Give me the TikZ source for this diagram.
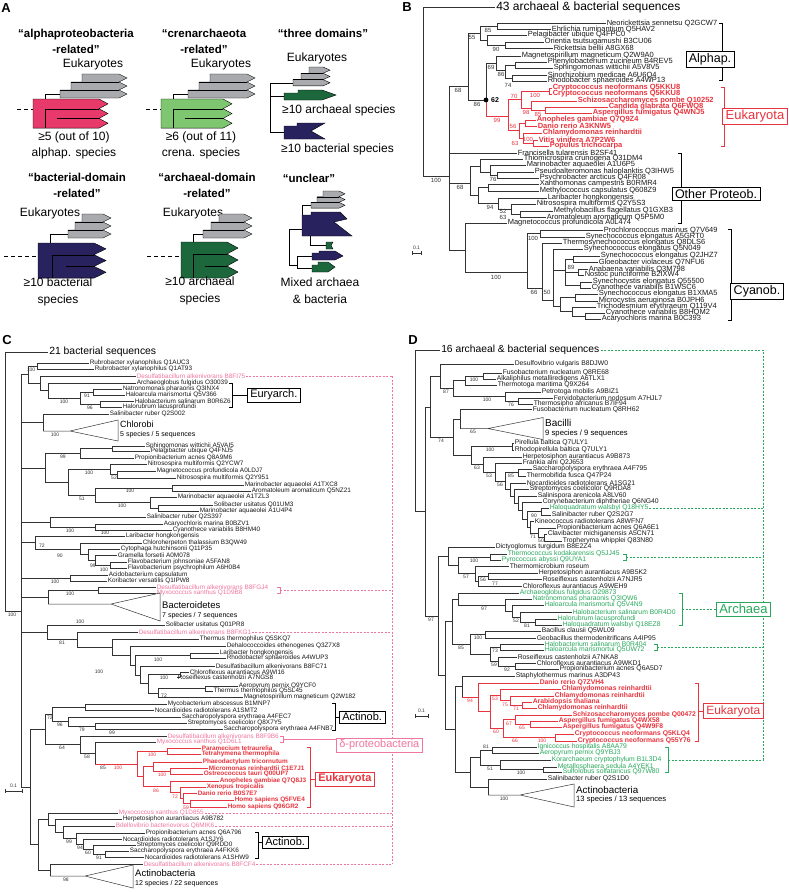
\documentclass[tikz,border=0pt]{standalone}
\usepackage{fontspec}
\setmainfont{Liberation Sans}
\newcommand\Tfs[1]{\fontsize{#1}{#1}\selectfont}
\definecolor{pinkA}{RGB}{232,58,106}
\definecolor{lgreen}{RGB}{126,199,112}
\definecolor{navyc}{RGB}{40,35,95}
\definecolor{dgreen}{RGB}{28,104,60}
\definecolor{grayc}{RGB}{168,170,173}
\definecolor{eukred}{RGB}{232,52,62}
\definecolor{pinkC}{RGB}{240,118,160}
\definecolor{greenD}{RGB}{40,168,92}
\newcounter{lfc}\newcounter{bsc}
\def\lfsz{7.5}\def\bssz{6}
\tikzset{
  br/.style={line width=0.5pt, draw=black!80},
  lf/.style={anchor=west, inner xsep=0.5pt, inner ysep=0pt, font=\Tfs{\lfsz}, text=black!90},
  rd/.style={text=eukred, font=\Tfs{\lfsz}\bfseries},
  pk/.style={text=pinkC},
  gr/.style={text=greenD},
  bs/.style={font=\Tfs{\bssz}, inner sep=0pt, text=black!80},
  hdr/.style={anchor=west, inner sep=1pt},
  boxn/.style={draw=black, line width=0.5pt, fill=white, inner xsep=3pt, inner ysep=2pt},
  ttl/.style={align=center, font=\fontsize{11.5}{16}\selectfont\bfseries, inner sep=0pt},
  atx/.style={align=center, font=\fontsize{12}{16}\selectfont, inner sep=0pt},
  plabel/.style={font=\Tfs{13}\bfseries, inner sep=0pt},
  pdash/.style={draw=pinkC, line width=0.5pt, dash pattern=on 2pt off 1.5pt},
  gdash/.style={draw=greenD, line width=0.5pt, dash pattern=on 2pt off 1.5pt},
  adash/.style={draw=black, line width=0.8pt, dash pattern=on 4pt off 3pt},
  ol/.style={draw=black, line width=0.5pt},
  tri/.style={anchor=west, inner sep=0pt},
}
\newcommand\TLf[5][]{\stepcounter{lfc}\draw[br] (#2,#3) -- (#4,#3) node[lf,#1,alias=last] (lf\arabic{lfc}) {#5};}
\newcommand\TLr[4]{\stepcounter{lfc}\draw[br,draw=eukred] (#1,#2) -- (#3,#2) node[lf,rd,alias=last] (lf\arabic{lfc}) {#4};}
\newcommand\TNd[6][]{\draw[br,#1] (#2,#4) -- (#3,#4) (#3,#5) -- (#3,#6);}
\newcommand\TBs[4][]{\stepcounter{bsc}\node[bs,#1] (bs\arabic{bsc}) at (#2,#3) {#4};}
\newcommand\Tstair[7]{%
\filldraw[fill=#1,draw=black,line width=0.4pt]
 ({#2+2*#4},#3) -- ({#6-#7},#3) -- (#6,{#3+0.5*#5}) -- ({#6-#7},{#3+#5}) -- (#6,{#3+1.5*#5}) -- ({#6-#7},{#3+2*#5}) -- (#6,{#3+2.5*#5}) -- ({#6-#7},{#3+3*#5}) -- (#2,{#3+3*#5}) -- (#2,{#3+2*#5}) -- ({#2+#4},{#3+2*#5}) -- ({#2+#4},{#3+#5}) -- ({#2+2*#4},{#3+#5}) -- cycle;
\draw[line width=0.4pt] ({#2+#4},{#3+#5}) -- ({#6-#7},{#3+#5}) (#2,{#3+2*#5}) -- ({#6-#7},{#3+2*#5});}
\newcommand\Tblk[7]{%
\filldraw[fill=#1,draw=black,line width=0.4pt]
 (#2,#3) -- ({#6-#7},#3) -- (#6,{#3+0.5*#5}) -- ({#6-#7},{#3+#5}) -- (#6,{#3+1.5*#5}) -- ({#6-#7},{#3+2*#5}) -- (#6,{#3+2.5*#5}) -- ({#6-#7},{#3+3*#5}) -- (#2,{#3+3*#5}) -- cycle;
\draw[line width=0.4pt] ({#2+#4},{#3+#5}) -- ({#6-#7},{#3+#5}) ({#2+#4},{#3+#5}) -- ({#2+#4},{#3+3*#5}) ({#2+2*#4},{#3+2*#5}) -- ({#6-#7},{#3+2*#5});}
\begin{document}
\begin{tikzpicture}[x=1pt,y=-1pt]
\useasboundingbox (0,0) rectangle (789,892);
\fill[white] (0,0) rectangle (789,892);
% ================= A
\node[plabel] (labA) at (6,8) {A};
\node[ttl] (t1) at (76,41) {“alphaproteobacteria\\-related”};
\node[ttl] (t2) at (204,41) {“crenarchaeota\\-related”};
\node[ttl] (t3) at (323,33) {“three domains”};
\node[ttl] (t4) at (77,185) {“bacterial-domain\\-related”};
\node[ttl] (t5) at (207,185) {“archaeal-domain\\-related”};
\node[ttl] (t6) at (309,178) {“unclear”};
% tree 1
\node[atx] (e1) at (93,64) {Eukaryotes};
\draw[adash] (17,109) -- (33,109);
\Tblk{pinkA}{33}{99}{12}{9.7}{108}{9}
\draw[ol] (45,99) -- (45,94) -- (60,94);
\Tstair{grayc}{60}{74}{11}{8}{127}{8}
\node[atx] (s1) at (74,145) {≥5 (out of 10)\\alphap. species};
% tree 2
\node[atx] (e2) at (221,64) {Eukaryotes};
\draw[adash] (146,109) -- (161,109);
\Tblk{lgreen}{161}{99}{12}{9.7}{232}{9}
\draw[ol] (173,99) -- (173,94) -- (188,94);
\Tstair{grayc}{188}{74}{11}{8}{255}{8}
\node[atx] (s2) at (201,145) {≥6 (out of 11)\\crena. species};
% tree 3
\node[atx] (e3) at (317,58) {Eukaryotes};
\draw[ol] (270,83) -- (270,132) (270,83) -- (293,83) (270,96) -- (284,96) (270,132) -- (284,132);
\Tstair{grayc}{293}{67}{8}{6.3}{330}{7}
\filldraw[fill=dgreen,draw=black,line width=0.4pt] (284,100) -- (284,93) -- (298,93) -- (298,90) -- (322,90) -- (336,95) -- (322,100) -- cycle;
\filldraw[fill=navyc,draw=black,line width=0.4pt] (284,139) -- (284,126) -- (297,126) -- (297,123) -- (325,123) -- (311,131) -- (325,139) -- cycle;
\node[atx,anchor=west] (s3a) at (282,110) {≥10 archaeal species};
\node[atx,anchor=west] (s3b) at (281,149) {≥10 bacterial species};
% tree 4
\node[atx] (e4) at (50,213) {Eukaryotes};
\draw[adash] (4,256) -- (38,256);
\Tblk{navyc}{38}{243}{14}{11.7}{106}{12}
\draw[ol] (50,243) -- (50,234) -- (68,234);
\Tstair{grayc}{68}{214}{7}{8}{111}{8}
\node[atx,font=\fontsize{12}{17}\selectfont] (s4) at (58,291.5) {≥10 bacterial\\species};
% tree 5
\node[atx] (e5) at (193,213) {Eukaryotes};
\draw[adash] (147,256) -- (181,256);
\Tblk{dgreen}{181}{242}{12}{12}{238}{11}
\draw[ol] (193,242) -- (193,234) -- (203,234);
\Tstair{grayc}{203}{214}{8}{8}{252}{8}
\node[atx,font=\fontsize{12}{17}\selectfont] (s5) at (200,291) {≥10 archaeal\\species};
% tree 6
\draw[ol] (289,229) -- (289,265) (289,229) -- (302,229) (302,215) -- (302,205) -- (311,205);
\Tstair{grayc}{311}{191}{6}{5.7}{345}{6}
\filldraw[fill=navyc,draw=black,line width=0.4pt] (302,236) -- (302,215) -- (311,215) -- (311,212) -- (340,212) -- (347,219) -- (334,222) -- (352,236) -- cycle;
\draw[ol] (310,236) -- (310,245) -- (326,245);
\filldraw[fill=dgreen,draw=black,line width=0.4pt] (326,249) -- (326,242) -- (333,242) -- (331,245.5) -- (333,249) -- cycle;
\draw[ol] (289,265) -- (297,265) (297,256) -- (297,268) (297,256) -- (312,256) (297,268) -- (312,268);
\filldraw[fill=navyc,draw=black,line width=0.4pt] (312,260) -- (312,253) -- (319,253) -- (319,251) -- (335,251) -- (343,256) -- (335,260) -- cycle;
\filldraw[fill=dgreen,draw=black,line width=0.4pt] (312,272) -- (312,265) -- (318,265) -- (318,262) -- (328,262) -- (335,267) -- (328,272) -- cycle;
\node[atx,font=\fontsize{12}{17}\selectfont] (s6) at (320,291) {Mixed archaea\\\& bacteria};
% ================= B
\def\lfsz{7.5}\def\bssz{6}
\node[plabel] (labB) at (407,7) {B};
\draw[br] (423,7) -- (495,7) node[hdr,font=\Tfs{12}] (hB) {43 archaeal \& bacterial sequences};
\draw[br] (423,7) -- (423,176);
\TNd{423}{449}{176}{86}{250}
\TNd{449}{468}{86}{33}{100}
\TNd{468}{480}{33}{26}{40}
\TNd{480}{497}{26}{23}{29}
\TLf{497}{23}{606}{Neorickettsia sennetsu Q2GCW7}
\TLf{497}{29}{551}{Ehrlichia ruminantium Q5HAV2}
\TNd{480}{487}{40}{35}{45}
\TLf{487}{35}{527}{Pelagibacter ubique Q4FPC0}
\TNd{487}{505}{45}{42}{48}
\TLf{505}{42}{544}{Orientia tsutsugamushi B3CU06}
\TLf{505}{48}{553}{Rickettsia bellii A8GX68}
\draw[br] (468,100) -- (486,100) (486,63) -- (486,100);
\draw[br,draw=eukred] (486,100) -- (486,116);
\TNd{486}{496}{63}{56}{70}
\TLf{496}{56}{521}{Magnetospirillum magneticum Q2W9A0}
\TNd{496}{505}{70}{65}{78}
\TNd{505}{515}{65}{62}{68}
\TLf{515}{62}{547}{Phenylobacterium zucineum B4REV5}
\TLf{515}{68}{553}{Sphingomonas wittichii A5V8V5}
\TNd{505}{512}{78}{75}{81}
\TLf{512}{75}{547}{Sinorhizobium medicae A6U6Q4}
\TLf{512}{81}{547}{Rhodobacter sphaeroides A4WP13}
\TNd[draw=eukred]{486}{508}{116}{99.5}{130}
\TNd[draw=eukred]{508}{521}{99.5}{91}{108}
\TNd[draw=eukred]{521}{549}{91}{88}{94}
\TLr{549}{88}{552}{Cryptococcus neoformans Q5KKU8}
\TLr{549}{94}{552}{Cryptococcus neoformans Q5KKU8}
\TNd[draw=eukred]{521}{531}{108}{101}{110}
\TLr{531}{101}{577}{Schizosaccharomyces pombe Q10252}
\TNd[draw=eukred]{531}{545}{110}{107}{113}
\TLr{545}{107}{608}{Candida glabrata Q6FWQ8}
\TLr{545}{113}{592}{Aspergillus fumigatus Q4WNJ5}
\TNd[draw=eukred]{508}{519}{130}{123}{138}
\TNd[draw=eukred]{519}{525}{123}{120}{126}
\TLr{525}{120}{536}{Anopheles gambiae Q7Q9Z4}
\TLr{525}{126}{537}{Danio rerio A3KNW5}
\TNd[draw=eukred]{519}{523}{138}{133}{143}
\TLr{523}{133}{542}{Chlamydomonas reinhardtii}
\TNd[draw=eukred]{523}{533}{143}{140}{146}
\TLr{533}{140}{538}{Vitis vinifera A7P2W6}
\TLr{533}{146}{549}{Populus trichocarpa}
\fill (486,100) circle (2.4);
\node[font=\Tfs{7}\bfseries, inner sep=0pt] (n62) at (495,100) {62};
\TLf{449}{153}{517}{Francisella tularensis B2SF41}
\TNd{449}{470}{183}{166}{195.5}
\TNd{470}{480}{166}{159}{172}
\TLf{480}{159}{523}{Thiomicrospira crunogena Q31DM4}
\TNd{480}{490}{172}{165}{175}
\TLf{490}{165}{526}{Marinobacter aquaeolei A1U6P5}
\TNd{490}{497}{175}{172}{178}
\TLf{497}{172}{534}{Pseudoalteromonas haloplanktis Q3IHW5}
\TLf{497}{178}{539}{Psychrobacter arcticus Q4FR08}
\TNd{470}{478}{195.5}{187.5}{203.5}
\TNd{478}{488}{187.5}{184}{191}
\TLf{488}{184}{539}{Xanthomonas campestris B0RMR4}
\TLf{488}{191}{539}{Methylococcus capsulatus Q608Z9}
\TNd{478}{498}{203.5}{198}{209}
\TLf{498}{198}{547}{Laribacter hongkongensis}
\TNd{498}{511}{209}{204}{214}
\TLf{511}{204}{536}{Nitrosospira multiformis Q2Y5S3}
\TNd{511}{520}{214}{211}{217}
\TLf{520}{211}{553}{Methylobacillus flagellatus Q1GXB3}
\TLf{520}{217}{546}{Aromatoleum aromaticum Q5P5M0}
\TNd{449}{465}{250}{223}{272}
\TLf{465}{223}{507}{Magnetococcus profundicola A0L474}
\TNd{465}{527}{272}{233.5}{288}
\TNd{527}{540}{233.5}{230}{237}
\TLf{540}{230}{603}{Prochlorococcus marinus Q7V649}
\TLf{540}{237}{585}{Synechococcus elongatus A5GRT0}
\TNd{527}{542}{288}{243}{300}
\TLf{542}{243}{562}{Thermosynechococcus elongatus Q8DLS6}
\TNd{542}{553}{300}{249}{306}
\TLf{553}{249}{583}{Synechococcus elongatus Q5N049}
\TNd{553}{565}{270}{259}{285}
\TNd{565}{573}{259}{256}{262}
\TLf{573}{256}{600}{Synechococcus elongatus Q2JHZ7}
\TLf{573}{262}{598}{Gloeobacter violaceus Q7NFU6}
\TNd{565}{578}{272}{269}{275}
\TLf{578}{269}{588}{Anabaena variabilis Q3M798}
\TLf{578}{275}{584}{Nostoc punctiforme B2IXW4}
\TNd{565}{580}{285}{282}{288}
\TLf{580}{282}{592}{Synechocystis elongatus Q55500}
\TLf{580}{288}{591}{Cyanothece variabilis B1WSC6}
\TNd{553}{560}{306}{297}{311.5}
\TNd{560}{575}{297}{294}{301}
\TLf{575}{294}{598}{Synechococcus elongatus B1XMA5}
\TLf{575}{301}{598}{Microcystis aeruginosa B0JPH6}
\TNd{560}{572}{311.5}{307}{316}
\TLf{572}{307}{596}{Trichodesmium erythraeum Q119V4}
\TNd{572}{585}{316}{313}{319}
\TLf{585}{313}{605}{Cyanothece variabilis B8HQM2}
\TLf{585}{319}{601}{Acaryochloris marina B0C393}
% B bootstraps
\TBs{488}{30}{85}\TBs{472}{37.5}{55}\TBs{496}{49}{90}\TBs{491}{67}{69}\TBs{501}{74}{86}\TBs{508}{85}{74}
\TBs{458}{90}{68}\TBs{477}{104}{86}
\TBs[text=eukred]{514}{96}{70}\TBs[text=eukred]{535}{95}{100}\TBs[text=eukred]{526}{112}{98}\TBs[text=eukred]{538}{114}{85}
\TBs[text=eukred]{497}{120}{99}\TBs[text=eukred]{513}{126}{56}\TBs[text=eukred]{515}{143}{63}\TBs[text=eukred]{528}{139.5}{100}
\TBs{436}{180}{100}\TBs{493}{179}{76}\TBs{460}{187}{68}\TBs{490}{207}{94}\TBs{503}{211}{52}\TBs{503}{217.3}{63}
\TBs{496}{277}{100}\TBs{533}{238}{100}\TBs{571}{267}{89}\TBs{534}{292.5}{66}\TBs{547}{292}{50}
% B brackets
\draw[ol] (719,23) -- (722,23) -- (722,80) -- (719,80);
\node[boxn,font=\Tfs{12.5}] (bxA) at (710,59) {Alphap.};
\draw[ol,draw=eukred] (721,87) -- (724,87) -- (724,146) -- (721,146);
\node[boxn,draw=eukred,text=eukred,font=\Tfs{13}] (bxE) at (755,116) {Eukaryota};
\draw[ol] (678,153) -- (681,153) -- (681,223) -- (678,223);
\node[boxn,font=\Tfs{12.5}] (bxO) at (716,194) {Other Proteob.};
\draw[ol] (728,229) -- (731,229) -- (731,320) -- (728,320);
\node[boxn,font=\Tfs{12.5}] (bxC) at (757,291) {Cyanob.};
\draw[br] (412,253) -- (421,253) (412,251) -- (412,255) (421,251) -- (421,255);
\node[bs,font=\Tfs{5}] (sbB) at (416.5,248) {0.1};
% ================= C
\def\lfsz{6.4}\def\bssz{5}
\node[plabel] (labC) at (7,340) {C};
\draw[br] (5,352) -- (48,352) node[hdr,font=\Tfs{10.4}] (hC) {21 bacterial sequences};
\draw[br] (5,352) -- (5,611);
\TNd{5}{21}{611}{374.5}{786.8}
\TNd{21}{28}{374.5}{366}{383}
\TNd{28}{37}{366}{363}{369}
\TLf{37}{363}{89}{Rubrobacter xylanophilus Q1AUC3}
\TLf{37}{369}{94}{Rubrobacter xylanophilus Q1AT93}
\TNd{28}{40}{383}{376}{390}
\TLf[pk]{40}{376}{136}{Desulfatibacillum alkenivorans B8FI75}
\draw[pdash] (last.east) -- (392,376);
\TNd{40}{48}{390}{383}{398}
\TLf{48}{383}{136}{Archaeoglobus fulgidus O30039}
\TNd{48}{80}{398}{392}{404}
\TNd{80}{93}{392}{389}{395}
\TLf{93}{389}{122}{Natronomonas pharaonis Q3INX4}
\TLf{93}{395}{125}{Haloarcula marismortui Q5V366}
\TNd{80}{100}{404}{401}{407}
\TLf{100}{401}{134}{Halobacterium salinarum B0R6Z6}
\TLf{100}{407}{122}{Halorubrum lacusprofundi}
\TNd{21}{43}{422}{414}{431}
\TLf{43}{414}{109}{Salinibacter ruber Q2S002}
\draw[br] (43,431) -- (70,431) -- (118,420) -- (118,441) -- (70,431);
\node[tri,font=\Tfs{9}] (chl1) at (120,424) {Chlorobi};
\node[tri,font=\Tfs{7}] (chl2) at (120,435) {5 species / 5 sequences};
\TNd{21}{45}{467.75}{453.25}{482.25}
\TNd{45}{80}{453.25}{448.5}{458}
\TNd{80}{112}{448.5}{446}{451}
\TLf{112}{446}{145}{Sphingomonas wittichii A5VAI5}
\TLf{112}{451}{150}{Pelagibacter ubique Q4FNJ5}
\TLf{80}{458}{134}{Propionibacterium acnes Q8A9M6}
\TNd{45}{68}{482.25}{469.25}{495.25}
\TNd{68}{110}{469.25}{464}{474.5}
\TLf{110}{464}{147}{Nitrosospira multiformis Q2YCW7}
\TNd{110}{117}{474.5}{471}{478}
\TLf{117}{471}{156}{Magnetococcus profundicola A0LDJ7}
\TLf{117}{478}{176}{Nitrosospira multiformis Q2Y951}
\TNd{68}{95}{495.25}{488}{502.5}
\TNd{95}{172}{488}{485}{491}
\TLf{172}{485}{244}{Marinobacter aquaeolei A1TXC8}
\TLf{172}{491}{251}{Aromatoleum aromaticum Q5NZ21}
\TNd{95}{150}{502.5}{497}{508}
\TLf{150}{497}{177}{Marinobacter aquaeolei A1TZL3}
\TNd{150}{158}{508}{505}{511}
\TLf{158}{505}{213}{Solibacter usitatus Q01UM3}
\TLf{158}{511}{199}{Marinobacter aquaeolei A1U4P4}
\TNd{21}{50}{522}{517}{527}
\TLf{50}{517}{146}{Salinibacter ruber Q2S397}
\TNd{50}{95}{527}{524}{530}
\TLf{95}{524}{163}{Acaryochloris marina B0BZV1}
\TLf{95}{530}{172}{Cyanothece variabilis B8HM40}
\TNd{21}{35}{542.4}{536}{548.75}
\TLf{35}{536}{125}{Laribacter hongkongensis}
\TNd{35}{80}{548.75}{543}{554.5}
\TLf{80}{543}{142}{Chloroherpeton thalassium B3QW49}
\TNd{80}{88}{554.5}{549}{560}
\TLf{88}{549}{120}{Cytophaga hutchinsonii Q11P35}
\TNd{88}{95}{560}{555}{565}
\TLf{95}{555}{117}{Gramella forsetii A0M078}
\TNd{95}{110}{565}{562}{568}
\TLf{110}{562}{127}{Flavobacterium johnsoniae A5FAN8}
\TLf{110}{568}{127}{Flavobacterium psychrophilum A6H0B4}
\TNd{21}{70}{578}{575}{581}
\TLf{70}{575}{108}{Acidobacterium capsulatum}
\TLf{70}{581}{107}{Koribacter versatilis Q1IPW8}
\TNd{21}{48}{597}{590}{604}
\TNd{48}{98}{590}{587}{593}
\TLf[pk]{98}{587}{156}{Desulfatibacillum alkenivorans B8FGJ4}
\TLf[pk]{98}{593}{156}{Myxococcus xanthus Q1D9B8}
\draw[br] (48,604) -- (111,604) -- (160,593) -- (160,621) -- (111,604);
\node[tri,font=\Tfs{9.5}] (bct1) at (162,605) {Bacteroidetes};
\node[tri,font=\Tfs{7}] (bct2) at (162,615.5) {7 species / 7 sequences};
\TNd{21}{47}{632.25}{625}{639.5}
\TLf{47}{625}{165}{Solibacter usitatus Q01PR8}
\TNd{47}{77}{639.5}{632}{647}
\TLf[pk]{77}{632}{138}{Desulfatibacillum alkenivorans B8FKG1}
\draw[pdash] (last.east) -- (392,632);
\TNd{77}{112}{647}{639}{655.5}
\TLf{112}{639}{199}{Thermus thermophilus Q5SKQ7}
\TNd{112}{130}{655.5}{646}{665}
\TLf{130}{646}{226}{Dehalococcoides ethenogenes Q3Z7X8}
\TNd{130}{135}{665}{655.5}{674.8}
\TNd{135}{190}{655.5}{653}{658}
\TLf{190}{653}{219}{Laribacter hongkongensis}
\TLf{190}{658}{226}{Rhodobacter sphaeroides A4WUP3}
\TNd{135}{140}{674.8}{666}{683.6}
\TLf{140}{666}{215}{Desulfatibacillum alkenivorans B8FC71}
\TNd{140}{148}{683.6}{674.5}{692.75}
\TNd{148}{180}{674.5}{672}{677}
\TLf{180}{672}{189}{Chloroflexus aurantiacus A9WI16}
\TLf{180}{677}{177}{Roseiflexus castenholzii A7NGS8}
\TNd{148}{158}{692.75}{688.5}{697}
\TNd{158}{205}{688.5}{686}{691}
\TLf{205}{686}{238}{Aeropyrum pernix Q9YCF0}
\TLf{205}{691}{213}{Thermus thermophilus Q5SL45}
\TLf{158}{697}{243}{Magnetospirillum magneticum Q2W182}
\TNd{21}{30}{786.8}{729}{844.6}
\TNd{30}{45}{729}{714}{744.5}
\TNd{45}{52}{714}{707}{721.5}
\TNd{52}{85}{707}{704}{710}
\TLf{85}{704}{167}{Mycobacterium abscessus B1MNP7}
\TLf{85}{710}{154}{Nocardioides radiotolerans A1SMT2}
\TNd{52}{68}{721.5}{717}{726}
\TLf{68}{717}{181}{Saccharopolyspora erythraea A4FEC7}
\TNd{68}{95}{726}{723}{729}
\TLf{95}{723}{187}{Streptomyces coelicolor Q8X7Y5}
\TLf{95}{729}{223}{Saccharopolyspora erythraea A4FNB7}
\TNd{45}{80}{744.5}{736}{753}
\TLf[pk]{80}{736}{167}{Desulfatibacillum alkenivorans B8F9B6}
\TNd{80}{95}{753}{742}{763.8}
\TLf[pk]{95}{742}{156}{Myxococcus xanthus Q1D6L1}
\TNd[draw=eukred]{95}{137}{763.8}{751}{776.6}
\TNd[draw=eukred]{137}{167}{751}{748}{754}
\TLr{167}{748}{201}{Paramecium tetraurelia}
\TLr{167}{754}{201}{Tetrahymena thermophila}
\TNd[draw=eukred]{137}{143}{776.6}{766.5}{786.7}
\TNd[draw=eukred]{143}{153}{766.5}{762}{771}
\TLr{153}{762}{202}{Phaeodactylum tricornutum}
\TNd[draw=eukred]{153}{170}{771}{768}{774}
\TLr{170}{768}{208}{Micromonas reinhardtii C1E7J1}
\TLr{170}{774}{203}{Ostreococcus tauri Q00UP7}
\TNd[draw=eukred]{143}{170}{786.7}{781}{792.5}
\TLr{170}{781}{219}{Anopheles gambiae Q7Q8J3}
\TNd[draw=eukred]{170}{180}{792.5}{787}{798}
\TLr{180}{787}{206}{Xenopus tropicalis}
\TNd[draw=eukred]{180}{183}{798}{793}{803.5}
\TLr{183}{793}{197}{Danio rerio B0S7E7}
\TNd[draw=eukred]{183}{190}{803.5}{800}{807}
\TLr{190}{800}{234}{Homo sapiens Q5FVE4}
\TLr{190}{807}{227}{Homo sapiens Q96GR2}
\TNd{30}{38}{844.6}{819.3}{870}
\TNd{38}{48}{819.3}{813}{825.6}
\TLf[pk]{48}{813}{118}{Myxococcus xanthus Q1D855}
\draw[pdash] (last.east) -- (392,813);
\TNd{48}{55}{825.6}{819}{832.3}
\TLf{55}{819}{122}{Herpetosiphon aurantiacus A9B782}
\TNd{55}{63}{832.3}{826}{838.6}
\TLf[pk]{63}{826}{115}{Bdellovibrio bacteriovorus Q6MIK6}
\draw[pdash] (last.east) -- (392,826);
\TNd{63}{76}{838.6}{833}{844.2}
\TLf{76}{833}{145}{Propionibacterium acnes Q6A796}
\TNd{76}{83}{844.2}{839}{849.5}
\TLf{83}{839}{122}{Nocardioides radiotolerans A1SJY6}
\TNd{83}{93}{849.5}{845}{854}
\TLf{93}{845}{136}{Streptomyces coelicolor Q9RDD0}
\TNd{93}{105}{854}{851}{857}
\TLf{105}{851}{129}{Saccharopolyspora erythraea A4FKK6}
\TLf{105}{857}{144}{Nocardioides radiotolerans A1SHW9}
\TNd{38}{50}{870}{864}{876}
\TLf[pk]{50}{864}{143}{Desulfatibacillum alkenivorans B8FCF4}
\draw[pdash] (last.east) -- (392,864);
\draw[br] (50,876) -- (85,876) -- (133,865) -- (133,888) -- (85,876);
\node[tri,font=\Tfs{9.5}] (act1) at (135,873) {Actinobacteria};
\node[tri,font=\Tfs{7}] (act2) at (135,884) {12 species / 22 sequences};
% C bootstraps
\TBs{31}{370}{100}\TBs{64}{402}{100}\TBs{87}{396}{91}\TBs{90}{408}{96}\TBs{55}{435}{100}
\TBs{63}{457}{99}\TBs{89}{473}{100}\TBs{114}{478}{52}\TBs{130}{491}{100}\TBs{82}{499}{51}\TBs{122}{506}{100}
\TBs{70}{531}{100}\TBs{105}{533}{100}\TBs{42}{546}{72}\TBs{60}{556}{90}\TBs{93}{566}{99}\TBs{104}{570}{100}
\TBs{55}{582}{100}\TBs{70}{594}{100}\TBs{12}{615}{100}\TBs{80}{622}{100}\TBs{62}{643}{81}\TBs{99}{672}{100}
\TBs{158}{660}{100}\TBs{164}{678}{100}\TBs{164}{696}{72}\TBs{50}{718}{72}\TBs{60}{725}{96}\TBs{82}{730}{79}\TBs{112}{733}{99}
\TBs{62}{748}{64}\TBs{87}{757}{58}\TBs{103}{768}{85}
\TBs[text=eukred]{118}{768}{100}\TBs[text=eukred]{152}{755}{100}\TBs[text=eukred]{162}{775}{100}
\TBs[text=eukred]{156}{791}{86}\TBs[text=eukred]{175}{797}{72}\TBs[text=eukred]{186}{808}{59}
\TBs{69}{842}{99}\TBs{80}{848}{94}\TBs{88}{853}{60}\TBs{99}{858}{91}\TBs{66}{880}{98}
% C brackets
\draw[pdash] (392,376) -- (392,864);
\draw[ol] (229,383) -- (232,383) -- (232,407) -- (229,407) (232,395) -- (247,395);
\node[boxn,font=\Tfs{11},anchor=west] (bxEu) at (247,395) {Euryarch.};
\draw[ol,draw=pinkC] (277,587) -- (280,587) -- (280,593) -- (277,593);
\draw[pdash] (280,590) -- (392,590);
\draw[ol,draw=pinkC] (280,736) -- (283,736) -- (283,742) -- (280,742) (283,739) -- (336,739);
\node[boxn,draw=pinkC,text=pinkC,font=\Tfs{11},anchor=west] (bxDelta) at (336,745) {δ-proteobacteria};
\draw[ol] (332,703) -- (335,703) -- (335,730) -- (332,730) (335,717) -- (339,717);
\node[boxn,font=\Tfs{11},anchor=west] (bxAc1) at (339,717) {Actinob.};
\draw[ol,draw=eukred] (307,747) -- (310,747) -- (310,807) -- (307,807) (310,779) -- (315,779);
\node[boxn,draw=eukred,text=eukred,font=\Tfs{11}\bfseries,anchor=west] (bxEc) at (315,779) {Eukaryota};
\draw[ol] (255,832) -- (258,832) -- (258,858) -- (255,858) (258,842) -- (262,842);
\node[boxn,font=\Tfs{11},anchor=west] (bxAc2) at (262,842) {Actinob.};
\draw[br] (5,791) -- (22,791) (5,789) -- (5,793) (22,789) -- (22,793);
\node[bs,font=\Tfs{5}] (sbC) at (13.5,786) {0.1};
% ================= D
\def\lfsz{6.8}\def\bssz{5}
\node[plabel] (labD) at (413,340) {D};
\draw[br] (415,350) -- (440,350) node[hdr,font=\Tfs{10.3}] (hD) {16 archaeal \& bacterial sequences};
\draw[gdash] (hD.east) -- (763,350) -- (763,760);
\draw[br] (415,350) -- (415,511.3);
\TNd{415}{425}{511.3}{406.8}{615.8}
\TNd{425}{430}{406.8}{376.2}{437.4}
\TNd{430}{440}{376.2}{364}{388.5}
\TLf{440}{364}{514}{Desulfovibrio vulgaris B8DJW0}
\TNd{440}{453}{388.5}{380.5}{396.5}
\TNd{453}{465}{380.5}{376}{385}
\TNd{465}{483}{376}{373}{379}
\TLf{483}{373}{502}{Fusobacterium nucleatum Q8RE68}
\TLf{483}{379}{496}{Alkaliphilus metalliredigens A6TLX1}
\TLf{465}{385}{497}{Thermotoga maritima Q9X264}
\TNd{453}{505}{396.5}{392}{401}
\TLf{505}{392}{541}{Petrotoga mobilis A9BIZ1}
\TNd{505}{518}{401}{398}{404}
\TLf{518}{398}{553}{Fervidobacterium nodosum A7HJL7}
\TLf{518}{404}{533}{Thermosipho africanus B7IF94}
\TNd{430}{453}{437.4}{419}{455.5}
\TNd{453}{460}{419}{409.5}{428.5}
\TLf{460}{409.5}{532}{Fusobacterium nucleatum Q8RH62}
\draw[br] (460,428.5) -- (488,428.5) -- (543,417.5) -- (543,439.5) -- (488,428.5);
\node[tri,font=\Tfs{10}] (bac1) at (545,423) {Bacilli};
\node[tri,font=\Tfs{7.7}] (bac2) at (545,433.5) {9 species / 9 sequences};
\TNd{453}{471}{455.5}{446.5}{464.5}
\TNd{471}{512}{446.5}{443}{450}
\TLf{512}{443}{514}{Pirellula baltica Q7ULY1}
\TLf{512}{450}{514}{Rhodopirellula baltica Q7ULY1}
\TNd{471}{483}{464.5}{457}{472}
\TLf{483}{457}{522}{Herpetosiphon aurantiacus A9B873}
\TNd{483}{495}{472}{463}{481}
\TLf{495}{463}{522}{Frankia alni Q2J653}
\TNd{495}{505}{481}{472.5}{489.6}
\TNd{505}{518}{472.5}{469}{476}
\TLf{518}{469}{532}{Saccharopolyspora erythraea A4F795}
\TLf{518}{476}{526}{Thermobifida fusca Q47P24}
\TNd{505}{510}{489.6}{483}{496.2}
\TLf{510}{483}{526}{Nocardioides radiotolerans A1SG21}
\TNd{510}{514}{496.2}{489}{503.3}
\TLf{514}{489}{529}{Streptomyces coelicolor Q9RDA8}
\TNd{514}{518}{503.3}{496}{510.6}
\TLf{518}{496}{537}{Salinispora arenicola A8LV60}
\TNd{518}{522}{510.6}{502}{519.2}
\TLf{522}{502}{542}{Corynebacterium diphtheriae Q6NG40}
\TNd{522}{527}{519.2}{511.5}{526.9}
\TNd{527}{541}{511.5}{508}{515}
\TLf[gr]{541}{508}{549}{Haloquadratum walsbyi Q18HY5}
\draw[gdash] (last.east) -- (763,508);
\TLf{541}{515}{551}{Salinibacter ruber Q2S2G7}
\TNd{527}{530}{526.9}{521}{532.75}
\TLf{530}{521}{534}{Kineococcus radiotolerans A8WFN7}
\TNd{530}{538}{532.75}{528}{537.5}
\TLf{538}{528}{556}{Propionibacterium acnes Q6A6E1}
\TNd{538}{544}{537.5}{534}{541}
\TLf{544}{534}{547}{Clavibacter michiganensis A5CN71}
\TLf{544}{541}{562}{Tropheryma whipplei Q83N80}
\TNd{425}{438}{615.8}{556.1}{675.5}
\TNd{438}{448}{556.1}{547}{565.25}
\TLf{448}{547}{495}{Dictyoglomus turgidum B8E2Z4}
\TNd{448}{458}{565.25}{557}{573.5}
\TNd{458}{490}{557}{554}{560}
\TLf[gr]{490}{554}{507}{Thermococcus kodakarensis Q5JJ45}
\TLf[gr]{490}{560}{501}{Pyrococcus abyssi Q9UYA1}
\TNd{458}{475}{573.5}{566}{581}
\TLf{475}{566}{509}{Thermomicrobium roseum}
\TNd{475}{478}{581}{576}{586}
\TNd{478}{488}{576}{573}{579}
\TLf{488}{573}{538}{Herpetosiphon aurantiacus A9B5K2}
\TLf{488}{579}{542}{Roseiflexus castenholzii A7NJR5}
\TLf{478}{586}{522}{Chloroflexus aurantiacus A9WEH9}
\TNd{438}{445}{675.5}{621.5}{729.4}
\TNd{445}{452}{621.5}{599}{644.4}
\TNd{452}{458}{599}{593}{605}
\TLf[gr]{458}{593}{519}{Archaeoglobus fulgidus O29873}
\TNd{458}{505}{605}{599}{611}
\TLf[gr]{505}{599}{532}{Natronomonas pharaonis Q3IQW6}
\TNd{505}{512}{611}{605}{617}
\TLf[gr]{512}{605}{544}{Haloarcula marismortui Q5V4N9}
\TNd{512}{520}{617}{612}{622}
\TLf[gr]{520}{612}{572}{Halobacterium salinarum B0R4D0}
\TNd{520}{535}{622}{619}{625}
\TLf[gr]{535}{619}{557}{Halorubrum lacusprofundi}
\TLf[gr]{535}{625}{562}{Haloquadratum walsbyi Q18EZ8}
\TNd{452}{470}{644.4}{634.5}{654.25}
\TNd{470}{485}{634.5}{631}{638}
\TLf{485}{631}{541}{Bacillus clausii Q5WL09}
\TLf{485}{638}{536}{Geobacillus thermodenitrificans A4IP95}
\TNd{470}{490}{654.25}{647}{661.5}
\TNd{490}{500}{647}{644}{650}
\TLf[gr]{500}{644}{544}{Halobacterium salinarum B0R404}
\TLf[gr]{500}{650}{544}{Haloarcula marismortui Q5UW72}
\TNd{490}{498}{661.5}{657}{666}
\TLf{498}{657}{517}{Roseiflexus castenholzii A7NKA8}
\TNd{498}{515}{666}{663}{669}
\TLf{515}{663}{536}{Chloroflexus aurantiacus A9WKD1}
\TLf{515}{669}{559}{Propionibacterium acnes Q6A5D7}
\TNd{445}{455}{729.4}{686.7}{772.2}
\TNd{455}{462}{686.7}{676}{697.3}
\TLf{462}{676}{515}{Staphylothermus marinus A3DP43}
\TNd[draw=eukred]{462}{478}{697.3}{683}{711.6}
\TLr{478}{683}{539}{Danio rerio Q7ZVH4}
\TNd[draw=eukred]{478}{490}{711.6}{694.75}{728.5}
\TNd[draw=eukred]{490}{500}{694.75}{689}{700.5}
\TLr{500}{689}{561}{Chlamydomonas reinhardtii}
\TNd[draw=eukred]{500}{510}{700.5}{696}{705}
\TLr{510}{696}{554}{Chlamydomonas reinhardtii}
\TNd[draw=eukred]{510}{522}{705}{702}{708}
\TLr{522}{702}{532}{Arabidopsis thaliana}
\TLr{522}{708}{537}{Chlamydomonas reinhardtii}
\TNd[draw=eukred]{490}{503}{728.5}{719.5}{737.5}
\TNd[draw=eukred]{503}{515}{719.5}{715}{724}
\TLr{515}{715}{572}{Schizosaccharomyces pombe Q00472}
\TNd[draw=eukred]{515}{530}{724}{721}{727}
\TLr{530}{721}{558}{Aspergillus fumigatus Q4WX58}
\TLr{530}{727}{562}{Aspergillus fumigatus Q4W9F8}
\TNd[draw=eukred]{503}{555}{737.5}{734}{741}
\TLr{555}{734}{574}{Cryptococcus neoformans Q5KLQ4}
\TLr{555}{741}{577}{Cryptococcus neoformans Q55Y76}
\TNd{455}{470}{772.2}{757.4}{787}
\TNd{470}{480}{757.4}{750}{764.75}
\TNd{480}{492}{750}{747}{753}
\TLf[gr]{492}{747}{537}{Ignicoccus hospitalis A8AA79}
\TLf[gr]{492}{753}{539}{Aeropyrum pernix Q9YBJ3}
\TNd{480}{500}{764.75}{760}{769.5}
\TLf[gr]{500}{760}{551}{Korarchaeum cryptophylum B1L3D4}
\TNd{500}{543}{769.5}{767}{772}
\TLf[gr]{543}{767}{557}{Metallosphaera sedula A4YEK1}
\TLf[gr]{543}{772}{562}{Sulfolobus solfataricus Q97W80}
\TNd{470}{488}{787}{779}{795}
\TLf{488}{779}{547}{Salinibacter ruber Q2S1D0}
\draw[br] (488,795) -- (520,795) -- (574,784) -- (574,807) -- (520,795);
\node[tri,font=\Tfs{9.8}] (dact1) at (576,789.5) {Actinobacteria};
\node[tri,font=\Tfs{7.6}] (dact2) at (576,800) {13 species / 13 sequences};
% D bootstraps
\TBs{446}{392}{87}\TBs{474}{380}{100}\TBs{487}{400}{100}\TBs{511}{405}{76}\TBs{473}{432}{65}\TBs{441}{441}{74}
\TBs{490}{450}{100}\TBs{511}{476}{85}\TBs{477}{468}{63}\TBs{489}{476}{53}\TBs{500}{485}{56}\TBs{534}{515.5}{90}
\TBs{533}{537}{71}\TBs{541}{541}{50}\TBs{474}{561}{100}\TBs{466}{577}{57}\TBs{483}{580}{56}\TBs{495}{584}{77}
\TBs{431}{620}{97}\TBs{484}{609}{97}\TBs{516}{621}{52}\TBs{527}{626}{81}\TBs{461}{648}{85}\TBs{478}{638}{100}
\TBs{495}{651}{73}\TBs{494}{665}{59}\TBs{507}{670}{92}
\TBs[text=eukred]{470}{701}{94}\TBs[text=eukred]{495}{698.5}{53}\TBs[text=eukred]{505}{704.5}{75}\TBs[text=eukred]{516}{709}{71}
\TBs[text=eukred]{496}{732}{60}\TBs[text=eukred]{509}{723.5}{67}\TBs[text=eukred]{522}{728}{65}\TBs[text=eukred]{515}{740.5}{66}\TBs[text=eukred]{542}{740.5}{100}
\TBs{486}{746.5}{81}\TBs{490}{769}{51}\TBs{521}{773}{100}\TBs{504}{799}{100}
% D brackets
\draw[ol,draw=greenD] (623,554) -- (626,554) -- (626,560) -- (623,560);
\draw[gdash] (626,557) -- (763,557);
\draw[ol,draw=greenD] (679,593) -- (682,593) -- (682,625) -- (679,625);
\draw[gdash] (682,609) -- (716,609);
\node[boxn,draw=greenD,text=greenD,font=\Tfs{13},anchor=west] (bxAr) at (716,609) {Archaea};
\draw[ol,draw=greenD] (654,644) -- (657,644) -- (657,650) -- (654,650);
\draw[gdash] (657,647) -- (763,647);
\draw[ol,draw=eukred] (695,683) -- (698,683) -- (698,741) -- (695,741) (698,711) -- (703,711);
\node[boxn,draw=eukred,text=eukred,font=\Tfs{12},anchor=west] (bxEd) at (703,711) {Eukaryota};
\draw[ol,draw=greenD] (665,747) -- (668,747) -- (668,772) -- (665,772);
\draw[gdash] (668,760) -- (763,760);
\draw[br] (415,716) -- (428,716) (415,714) -- (415,718) (428,714) -- (428,718);
\node[bs,font=\Tfs{5}] (sbD) at (421.5,711) {0.1};
\end{tikzpicture}
\end{document}
